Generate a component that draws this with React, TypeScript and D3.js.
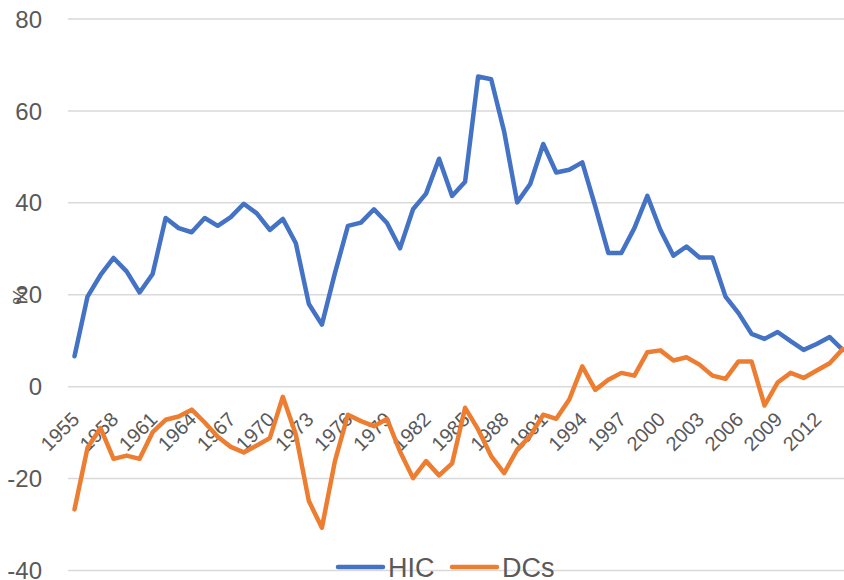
import { useEffect, useRef } from 'react';
import * as d3 from 'd3';

const years = d3.range(1955, 2015);

const hic = [
  6.6, 19.6, 24.3, 28.0, 25.1, 20.5, 24.5, 36.7, 34.5, 33.6,
  36.7, 35.0, 36.9, 39.8, 37.7, 34.1, 36.5, 31.2, 18.0, 13.5,
  24.7, 35.0, 35.7, 38.6, 35.6, 30.1, 38.6, 42.0, 49.6, 41.5,
  44.6, 67.5, 66.9, 55.5, 40.1, 44.1, 52.8, 46.6, 47.2, 48.8,
  39.2, 29.1, 29.1, 34.5, 41.5, 34.1, 28.5, 30.5, 28.1, 28.1,
  19.6, 16.0, 11.5, 10.4, 11.9, 9.9, 8.0, 9.3, 10.8, 8.0,
];

const dcs = [
  -26.7, -13.3, -9.0, -15.7, -15.0, -15.7, -9.9, -7.2, -6.5, -5.0,
  -7.8, -10.9, -13.1, -14.3, -12.8, -11.2, -2.2, -10.4, -24.9, -30.7,
  -16.2, -6.1, -7.5, -8.6, -7.0, -14.1, -19.9, -16.2, -19.3, -16.7,
  -4.6, -9.3, -15.1, -18.8, -13.7, -10.7, -6.1, -7.0, -2.8, 4.4,
  -0.7, 1.5, 3.0, 2.4, 7.5, 7.9, 5.7, 6.4, 4.8, 2.4,
  1.7, 5.5, 5.5, -4.1, 0.9, 3.0, 1.9, 3.5, 5.1, 8.2,
];

const yTicks = [-40, -20, 0, 20, 40, 60, 80];
const xTickYears = d3.range(1955, 2015, 3);

export default function App() {
  const ref = useRef<SVGSVGElement | null>(null);

  useEffect(() => {
    const width = 844;
    const svg = d3.select(ref.current);
    svg.selectAll('*').remove();

    const font = '"Liberation Sans", Arial, sans-serif';
    const textColor = '#595959';

    const x = d3.scaleBand<number>().domain(years).range([68, 68 + 60 * 13.02]).padding(0);
    const cx = (yr: number) => (x(yr) as number) + x.bandwidth() / 2;
    const y = d3.scaleLinear().domain([-40, 80]).range([570.5, 19]);

    // grid
    svg.append('g')
      .selectAll('line')
      .data(yTicks)
      .join('line')
      .attr('x1', 68)
      .attr('x2', width)
      .attr('y1', d => y(d))
      .attr('y2', d => y(d))
      .attr('stroke', '#d9d9d9')
      .attr('stroke-width', 1.5);

    // y labels
    svg.append('g')
      .selectAll('text')
      .data(yTicks)
      .join('text')
      .attr('x', 42)
      .attr('y', d => y(d))
      .attr('dy', '0.36em')
      .attr('text-anchor', 'end')
      .attr('font-family', font)
      .attr('font-size', 24)
      .attr('fill', textColor)
      .text(d => String(d));

    // y title
    svg.append('text')
      .attr('transform', `translate(27,${y(20) + 1}) rotate(-90)`)
      .attr('text-anchor', 'middle')
      .attr('font-family', font)
      .attr('font-size', 20)
      .attr('fill', textColor)
      .text('%');

    // x labels along zero line
    svg.append('g')
      .selectAll('text')
      .data(xTickYears)
      .join('text')
      .attr('transform', d => `translate(${cx(d) + 6},${y(0) + 34}) rotate(-45)`)
      .attr('text-anchor', 'end')
      .attr('font-family', font)
      .attr('font-size', 20)
      .attr('fill', textColor)
      .text(d => String(d));

    const line = (vals: number[]) =>
      d3.line<number>()
        .x((_, i) => cx(years[i]))
        .y(d => y(d))(vals);

    const series = [
      { label: 'HIC', color: '#4472c4', values: hic },
      { label: 'DCs', color: '#ed7d31', values: dcs },
    ];

    series.forEach(s => {
      svg.append('path')
        .attr('d', line(s.values))
        .attr('fill', 'none')
        .attr('stroke', s.color)
        .attr('stroke-width', 4.5)
        .attr('stroke-linejoin', 'round')
        .attr('stroke-linecap', 'round');
    });

    // legend
    const legendX = [338, 452];
    series.forEach((s, i) => {
      const g = svg.append('g').attr('transform', `translate(${legendX[i]},567)`);
      g.append('line')
        .attr('x1', 0)
        .attr('x2', 45)
        .attr('stroke', s.color)
        .attr('stroke-width', 4.5)
        .attr('stroke-linecap', 'round');
      g.append('text')
        .attr('x', 50)
        .attr('y', 0)
        .attr('dy', '0.36em')
        .attr('font-family', font)
        .attr('font-size', 27)
        .attr('fill', textColor)
        .text(s.label);
    });
  }, []);

  return (
    <div style={{ position: 'absolute', left: 0, top: 0 }}>
      <svg ref={ref} width={844} height={580} style={{ display: 'block', background: '#fff' }} />
    </div>
  );
}
